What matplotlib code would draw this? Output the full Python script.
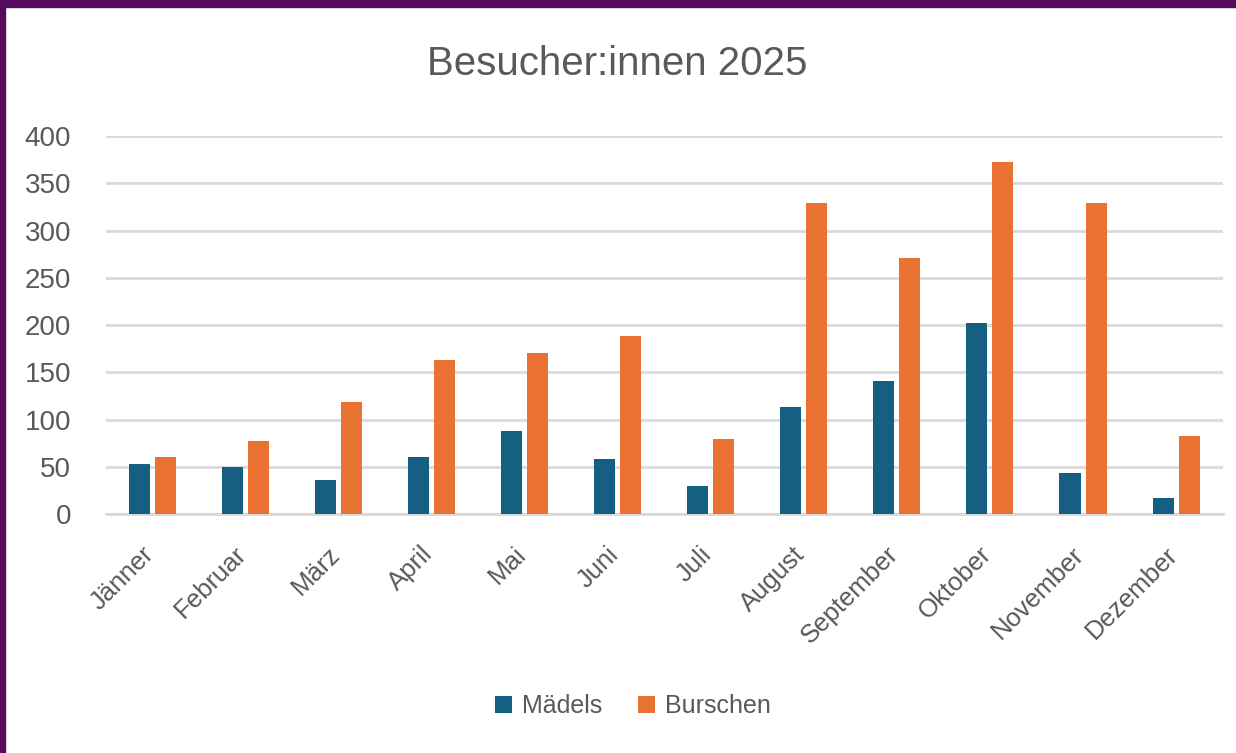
import matplotlib
matplotlib.use("Agg")
import matplotlib.pyplot as plt
import matplotlib.transforms as mtransforms
from matplotlib import font_manager
import numpy as np

months = ["Jänner", "Februar", "März", "April", "Mai", "Juni", "Juli",
          "August", "September", "Oktober", "November", "Dezember"]
maedels = [53, 50, 36, 61, 88, 58, 30, 113, 141, 202, 44, 17]
burschen = [61, 77, 119, 163, 171, 188, 80, 329, 271, 373, 329, 83]
series_names = ["Mädels", "Burschen"]
yticks = [0, 50, 100, 150, 200, 250, 300, 350, 400]
title = "Besucher:innen 2025"

names = {f.name for f in font_manager.fontManager.ttflist}
fam = "Liberation Sans Narrow" if "Liberation Sans Narrow" in names else "Liberation Sans"
plt.rcParams["font.family"] = [fam, "DejaVu Sans"]

txt = "#595959"
c_blue = "#156082"
c_orange = "#E97132"
grid_c = "#d9d9d9"

fig = plt.figure(figsize=(12.36, 7.53), dpi=100)
ax = fig.add_axes([0.0855, 0.317, 0.9037, 0.5024])

x = np.arange(len(months))
w = 0.226
off = 0.14
ax.bar(x - off, maedels, width=w, color=c_blue, label=series_names[0], zorder=3)
ax.bar(x + off, burschen, width=w, color=c_orange, label=series_names[1], zorder=3)

ax.set_xlim(-0.5, len(months) - 0.5)
ax.set_ylim(0, 400)
ax.set_yticks(yticks)
ax.set_yticklabels([str(v) for v in yticks])
ax.yaxis.grid(True, color=grid_c, linewidth=2, zorder=0)
ax.set_axisbelow(True)
for s in ["top", "right", "left"]:
    ax.spines[s].set_visible(False)
ax.spines["bottom"].set_color(grid_c)
ax.spines["bottom"].set_linewidth(2)
ax.tick_params(axis="both", length=0, colors=txt)
ax.tick_params(axis="y", pad=25, labelsize=20)
ax.set_xticks(x)
ax.set_xticklabels(months, rotation=45, ha="right", rotation_mode="anchor",
                   fontsize=18.5, color=txt)
ax.tick_params(axis="x", pad=20)
shift = mtransforms.ScaledTranslation(-11 / 100, 0, fig.dpi_scale_trans)
for lab in ax.get_xticklabels():
    lab.set_transform(lab.get_transform() + shift)

fig.text(0.4996, 0.915, title, ha="center", va="center", fontsize=29, color=txt)

leg = fig.legend(loc="center", bbox_to_anchor=(0.512, 0.062), ncol=2, frameon=False,
                 fontsize=18, handlelength=0.68, handleheight=0.68,
                 handletextpad=0.4, columnspacing=1.44)
for t in leg.get_texts():
    t.set_color(txt)

# purple frame on top and left edges
fig.patches.append(plt.Rectangle((0, 1 - 7 / 753), 1, 7 / 753, transform=fig.transFigure,
                                 color="#560a5c", zorder=10))
fig.patches.append(plt.Rectangle((0, 0), 5 / 1236, 1, transform=fig.transFigure,
                                 color="#560a5c", zorder=10))

fig.savefig("out.png", dpi=100)
